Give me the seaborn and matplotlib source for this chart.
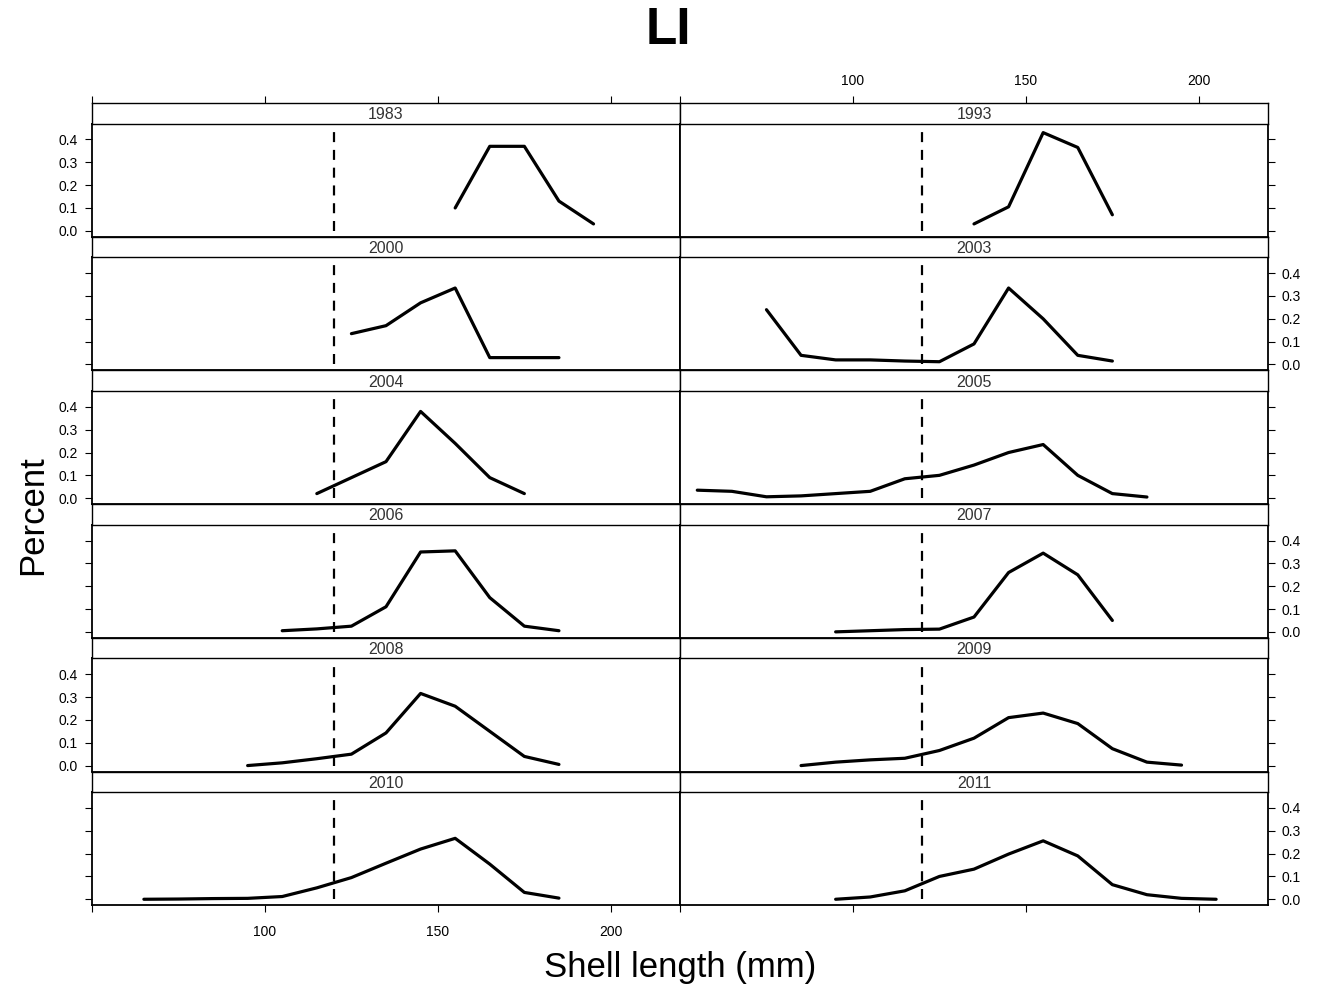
import matplotlib
matplotlib.use("Agg")
import matplotlib.pyplot as plt
import seaborn as sns
import pandas as pd

# ---------------- data ----------------
years = ["1983", "1993", "2000", "2003", "2004", "2005",
         "2006", "2007", "2008", "2009", "2010", "2011"]

len_1983 = [155, 165, 175, 185, 195]
pct_1983 = [0.10, 0.37, 0.37, 0.13, 0.03]

len_1993 = [135, 145, 155, 165, 175]
pct_1993 = [0.03, 0.105, 0.43, 0.365, 0.07]

len_2000 = [125, 135, 145, 155, 165, 175, 185]
pct_2000 = [0.135, 0.17, 0.27, 0.335, 0.03, 0.03, 0.03]

len_2003 = [75, 85, 95, 105, 115, 125, 135, 145, 155, 165, 175]
pct_2003 = [0.24, 0.04, 0.02, 0.02, 0.015, 0.012, 0.09, 0.335, 0.20, 0.04, 0.015]

len_2004 = [115, 125, 135, 145, 155, 165, 175]
pct_2004 = [0.02, 0.09, 0.16, 0.38, 0.24, 0.09, 0.02]

len_2005 = [55, 65, 75, 85, 95, 105, 115, 125, 135, 145, 155, 165, 175, 185]
pct_2005 = [0.035, 0.03, 0.006, 0.01, 0.02, 0.03, 0.085, 0.10, 0.145, 0.20,
            0.235, 0.10, 0.02, 0.005]

len_2006 = [105, 115, 125, 135, 145, 155, 165, 175, 185]
pct_2006 = [0.005, 0.013, 0.025, 0.11, 0.35, 0.355, 0.15, 0.025, 0.005]

len_2007 = [95, 105, 115, 125, 135, 145, 155, 165, 175]
pct_2007 = [0.0, 0.005, 0.01, 0.012, 0.065, 0.26, 0.345, 0.25, 0.05]

len_2008 = [95, 105, 115, 125, 135, 145, 155, 165, 175, 185]
pct_2008 = [0.0, 0.012, 0.03, 0.05, 0.143, 0.316, 0.26, 0.15, 0.04, 0.005]

len_2009 = [85, 95, 105, 115, 125, 135, 145, 155, 165, 175, 185, 195]
pct_2009 = [0.0, 0.015, 0.025, 0.032, 0.066, 0.12, 0.21, 0.23, 0.184, 0.074,
            0.015, 0.002]

len_2010 = [65, 75, 85, 95, 105, 115, 125, 135, 145, 155, 165, 175, 185]
pct_2010 = [0.0, 0.001, 0.003, 0.004, 0.012, 0.05, 0.095, 0.158, 0.22, 0.267,
            0.154, 0.03, 0.005]

len_2011 = [95, 105, 115, 125, 135, 145, 155, 165, 175, 185, 195, 205]
pct_2011 = [0.0, 0.01, 0.037, 0.10, 0.132, 0.198, 0.256, 0.19, 0.064, 0.02,
            0.004, 0.0]

x_ticks = [50, 100, 150, 200]
x_tick_labels = ["", "100", "150", "200"]
y_ticks = [0.0, 0.1, 0.2, 0.3, 0.4]
y_tick_labels = ["0.0", "0.1", "0.2", "0.3", "0.4"]
cutoff = 120
title = "LI"
xlabel = "Shell length (mm)"
ylabel = "Percent"

series = {
    "1983": (len_1983, pct_1983), "1993": (len_1993, pct_1993),
    "2000": (len_2000, pct_2000), "2003": (len_2003, pct_2003),
    "2004": (len_2004, pct_2004), "2005": (len_2005, pct_2005),
    "2006": (len_2006, pct_2006), "2007": (len_2007, pct_2007),
    "2008": (len_2008, pct_2008), "2009": (len_2009, pct_2009),
    "2010": (len_2010, pct_2010), "2011": (len_2011, pct_2011),
}
df = pd.concat(
    [pd.DataFrame({"year": y, "length": series[y][0], "pct": series[y][1]})
     for y in years], ignore_index=True)

# ---------------- styling ----------------
sns.set_style("white")
plt.rcParams["font.family"] = ["Liberation Sans", "DejaVu Sans"]
plt.rcParams["text.color"] = "black"

W, H = 1323, 990
fig = plt.figure(figsize=(W / 100, H / 100), dpi=100)

col_left = [92, 680]
panel_w = 588
row_top0 = 103
row_step = 133.7
strip_h = 20.5
plot_h = row_step - strip_h


def fig_rect(x, y, w, h):
    return [x / W, 1 - (y + h) / H, w / W, h / H]


for k, yr in enumerate(years):
    r, c = divmod(k, 2)
    x0 = col_left[c]
    top = row_top0 + r * row_step
    ax = fig.add_axes(fig_rect(x0, top + strip_h, panel_w, plot_h))
    sax = fig.add_axes(fig_rect(x0, top, panel_w, strip_h), sharex=ax)

    sub = df[df["year"] == yr]
    sns.lineplot(data=sub, x="length", y="pct", ax=ax, color="black",
                 linewidth=2.3, estimator=None, sort=False)
    ax.vlines(cutoff, 0, 0.435, colors="black", linestyles=(0, (4.5, 3.5)),
              linewidth=1.6)

    ax.set_xlim(50, 220)
    ax.set_ylim(-0.026, 0.47)
    ax.set_xlabel("")
    ax.set_ylabel("")
    for sp in ax.spines.values():
        sp.set_linewidth(1.3)
        sp.set_color("black")

    # y ticks
    ax.set_yticks(y_ticks)
    ax.set_yticklabels(y_tick_labels)
    show_lab = (r % 2 == 0 and c == 0) or (r % 2 == 1 and c == 1)
    ax.tick_params(axis="y", direction="out", length=5, width=0.8,
                   left=(c == 0), right=(c == 1),
                   labelleft=(show_lab and c == 0),
                   labelright=(show_lab and c == 1),
                   labelsize=10, pad=5, colors="black")

    # x ticks
    ax.set_xticks(x_ticks)
    ax.set_xticklabels(x_tick_labels)
    bottom_row = (r == 5)
    ax.tick_params(axis="x", direction="out", length=5, width=0.8,
                   bottom=bottom_row, top=False,
                   labelbottom=(bottom_row and c == 0), labeltop=False,
                   labelsize=10, pad=9, colors="black")

    # strip
    sax.set_facecolor("white")
    sax.set_ylim(0, 1)
    sax.set_yticks([])
    for sp in sax.spines.values():
        sp.set_linewidth(1.0)
        sp.set_color("black")
    sax.tick_params(axis="x", direction="out", length=5, width=0.8,
                    bottom=False, labelbottom=False,
                    top=(r == 0), labeltop=(r == 0 and c == 1),
                    labelsize=10, pad=6, colors="black")
    sax.text(0.5, 0.42, yr, transform=sax.transAxes, ha="center",
             va="center", fontsize=11.5, color="#333333")

fig.text(668 / W, 1 - 31 / H, title, fontsize=37, fontweight="bold",
         ha="center", va="center", color="black")
fig.text(680 / W, 1 - 967 / H, xlabel, fontsize=25, ha="center",
         va="center", color="black")
fig.text(33 / W, 1 - 515 / H, ylabel, fontsize=25, ha="center",
         va="center", rotation=90, color="black")

fig.savefig("out.png", dpi=100)
